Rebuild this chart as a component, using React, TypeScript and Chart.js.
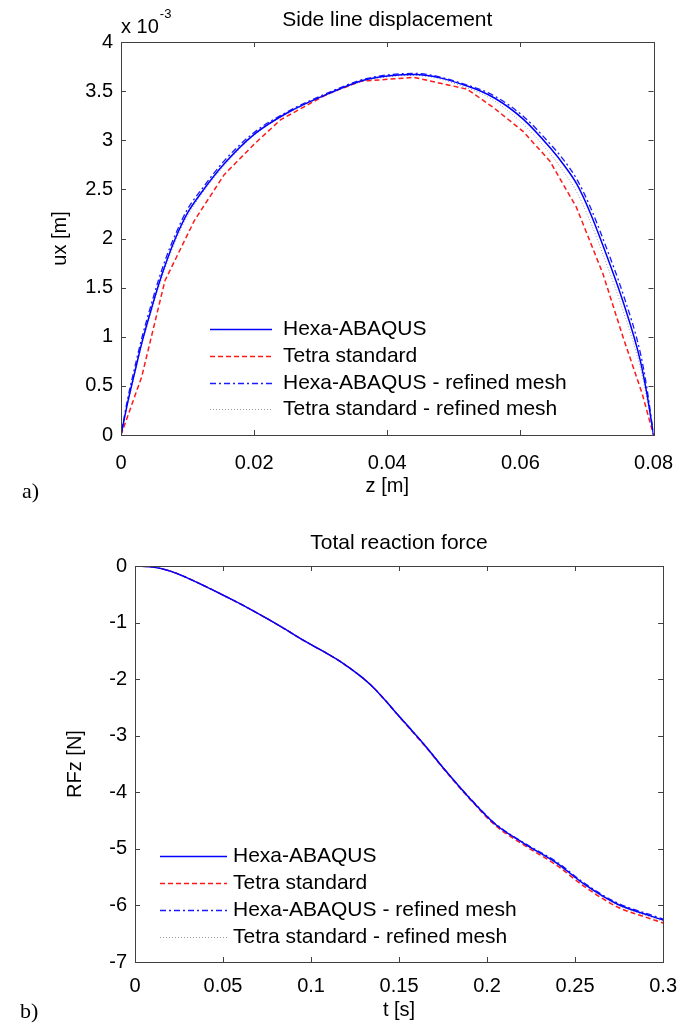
import React, { useEffect, useRef } from 'react';
import { Chart, registerables } from 'chart.js';

Chart.register(...registerables);

// ---------- Chart a: Side line displacement (ux in 1e-3 m) ----------
const zHexa = [0, 0.001, 0.002, 0.0031, 0.0045, 0.0056, 0.0068, 0.0081, 0.01, 0.012, 0.0155, 0.02, 0.025, 0.031, 0.037, 0.0441, 0.0521, 0.0561, 0.0605, 0.0645, 0.0665, 0.0685, 0.0705, 0.0725, 0.0755, 0.078, 0.079, 0.08];
const uxHexa = [0, 0.33, 0.62, 0.93, 1.27, 1.52, 1.76, 1.99, 2.26, 2.46, 2.76, 3.06, 3.28, 3.47, 3.62, 3.67, 3.55, 3.43, 3.21, 2.92, 2.75, 2.55, 2.26, 1.91, 1.34, 0.76, 0.42, 0];
const uxHexaRefined = [0, 0.37, 0.67, 0.98, 1.32, 1.57, 1.81, 2.03, 2.3, 2.49, 2.79, 3.08, 3.29, 3.48, 3.63, 3.68, 3.56, 3.45, 3.24, 2.96, 2.8, 2.6, 2.32, 1.98, 1.42, 0.84, 0.48, 0];
const uxTetraRefined = [0, 0.31, 0.6, 0.91, 1.24, 1.49, 1.73, 1.96, 2.23, 2.44, 2.74, 3.05, 3.27, 3.46, 3.61, 3.66, 3.53, 3.4, 3.16, 2.86, 2.68, 2.47, 2.17, 1.82, 1.25, 0.69, 0.37, 0];
const zTetra = [0, 0.0031, 0.0066, 0.011, 0.0155, 0.02, 0.024, 0.031, 0.036, 0.044, 0.052, 0.056, 0.0604, 0.0644, 0.0684, 0.0724, 0.0754, 0.0783, 0.08];
const uxTetra = [0, 0.59, 1.57, 2.18, 2.65, 2.96, 3.21, 3.47, 3.6, 3.64, 3.52, 3.33, 3.09, 2.79, 2.32, 1.64, 1.0, 0.42, 0];

const zTicks = [0, 0.02, 0.04, 0.06, 0.08];
const zTickLabels = ['0', '0.02', '0.04', '0.06', '0.08'];
const uxTicks = [0, 0.5, 1, 1.5, 2, 2.5, 3, 3.5, 4];
const uxTickLabels = ['0', '0.5', '1', '1.5', '2', '2.5', '3', '3.5', '4'];

// ---------- Chart b: Total reaction force ----------
const tRF = [0, 0.0103, 0.02, 0.029, 0.04, 0.051, 0.0635, 0.0756, 0.086, 0.096, 0.107, 0.1186, 0.1335, 0.1429, 0.1484, 0.1559, 0.166, 0.1765, 0.1914, 0.2045, 0.2213, 0.24, 0.255, 0.2736, 0.2923, 0.3];
const rfHexa = [0, -0.02, -0.09, -0.2, -0.36, -0.53, -0.73, -0.94, -1.13, -1.32, -1.51, -1.73, -2.09, -2.4, -2.6, -2.86, -3.22, -3.62, -4.15, -4.56, -4.91, -5.26, -5.62, -5.97, -6.18, -6.26];
const rfTetra = [0, -0.02, -0.09, -0.2, -0.36, -0.53, -0.73, -0.94, -1.13, -1.32, -1.51, -1.73, -2.09, -2.4, -2.6, -2.87, -3.23, -3.63, -4.16, -4.58, -4.94, -5.3, -5.66, -6.02, -6.23, -6.31];
const rfHexaRefined = [0, -0.02, -0.09, -0.2, -0.36, -0.53, -0.73, -0.94, -1.13, -1.32, -1.51, -1.73, -2.09, -2.4, -2.6, -2.86, -3.22, -3.62, -4.14, -4.55, -4.9, -5.24, -5.6, -5.95, -6.16, -6.24];
const rfTetraRefined = [0, -0.02, -0.09, -0.2, -0.36, -0.53, -0.73, -0.94, -1.13, -1.32, -1.51, -1.73, -2.09, -2.4, -2.6, -2.86, -3.22, -3.62, -4.15, -4.57, -4.92, -5.28, -5.63, -5.99, -6.2, -6.28];

const tTicks = [0, 0.05, 0.1, 0.15, 0.2, 0.25, 0.3];
const tTickLabels = ['0', '0.05', '0.1', '0.15', '0.2', '0.25', '0.3'];
const rfTicks = [-7, -6, -5, -4, -3, -2, -1, 0];
const rfTickLabels = ['-7', '-6', '-5', '-4', '-3', '-2', '-1', '0'];

const seriesLabels = ['Hexa-ABAQUS', 'Tetra standard', 'Hexa-ABAQUS - refined mesh', 'Tetra standard - refined mesh'];

const F = { family: "'Liberation Sans', Arial, Helvetica, sans-serif", tick: 20, label: 20, legend: 21, title: 21, sup: 13 };

const pts = (xs: number[], ys: number[]) => xs.map((x, i) => ({ x, y: ys[i] }));

const styles = [
  { borderColor: '#0000ff', borderWidth: 1.5, borderDash: [] as number[] },
  { borderColor: '#ff1a1a', borderWidth: 1.5, borderDash: [5, 3] },
  { borderColor: '#1a1aff', borderWidth: 1.3, borderDash: [6, 3, 2, 3] },
  { borderColor: '#9a9a9a', borderWidth: 1, borderDash: [1, 2] },
];

function makeDatasets(series: { x: number[]; y: number[]; smooth: boolean }[]) {
  return series.map((s, i) => ({
    label: seriesLabels[i],
    data: pts(s.x, s.y),
    ...styles[i],
    pointRadius: 0,
    fill: false,
    cubicInterpolationMode: s.smooth ? 'monotone' : 'default',
    tension: 0,
  }));
}

function decorPlugin(cfg: any) {
  return {
    id: 'matlabDecor' + cfg.key,
    afterDraw(chart: any) {
      const { ctx, chartArea: ca, scales } = chart;
      const xs = scales.x;
      const ys = scales.y;
      ctx.save();
      ctx.strokeStyle = '#404040';
      ctx.lineWidth = 1;
      ctx.setLineDash([]);
      ctx.strokeRect(Math.round(ca.left) + 0.5, Math.round(ca.top) + 0.5, Math.round(ca.right - ca.left), Math.round(ca.bottom - ca.top));
      const tl = 5;
      ctx.beginPath();
      cfg.xTicks.forEach((v: number) => {
        const p = Math.round(xs.getPixelForValue(v)) + 0.5;
        ctx.moveTo(p, ca.bottom);
        ctx.lineTo(p, ca.bottom - tl);
        ctx.moveTo(p, ca.top);
        ctx.lineTo(p, ca.top + tl);
      });
      cfg.yTicks.forEach((v: number) => {
        const p = Math.round(ys.getPixelForValue(v)) + 0.5;
        ctx.moveTo(ca.left, p);
        ctx.lineTo(ca.left + tl, p);
        ctx.moveTo(ca.right, p);
        ctx.lineTo(ca.right - tl, p);
      });
      ctx.stroke();
      ctx.fillStyle = '#000';
      ctx.font = `${F.title}px ${F.family}`;
      ctx.textAlign = 'center';
      ctx.textBaseline = 'middle';
      ctx.fillText(cfg.title, (ca.left + ca.right) / 2, cfg.titleY);
      if (cfg.exponent) {
        ctx.textAlign = 'left';
        ctx.font = `${F.tick}px ${F.family}`;
        ctx.fillText('x 10', ca.left, cfg.exponent.y);
        const w = ctx.measureText('x 10').width;
        ctx.font = `${F.sup}px ${F.family}`;
        ctx.fillText(cfg.exponent.pow, ca.left + w + 1, cfg.exponent.y - 13);
      }
      ctx.font = `${F.legend}px ${F.family}`;
      ctx.textAlign = 'left';
      chart.data.datasets.forEach((ds: any, i: number) => {
        const y = cfg.legend.rows[i];
        ctx.save();
        ctx.strokeStyle = ds.borderColor;
        ctx.lineWidth = ds.borderWidth;
        ctx.setLineDash(ds.borderDash || []);
        ctx.beginPath();
        ctx.moveTo(cfg.legend.x0, y + 0.5);
        ctx.lineTo(cfg.legend.x1, y + 0.5);
        ctx.stroke();
        ctx.restore();
        ctx.fillStyle = '#000';
        ctx.fillText(ds.label, cfg.legend.tx, y);
      });
      ctx.restore();
    },
  };
}

function makeConfig(opts: any) {
  const tickFont = { family: F.family, size: F.tick };
  const labelFont = { family: F.family, size: F.label };
  return {
    type: 'line',
    data: { datasets: opts.datasets },
    options: {
      animation: false,
      responsive: false,
      maintainAspectRatio: false,
      devicePixelRatio: 1,
      events: [],
      layout: { padding: opts.padding },
      plugins: { legend: { display: false }, tooltip: { enabled: false }, title: { display: false } },
      elements: { point: { radius: 0 }, line: { tension: 0 } },
      scales: {
        x: {
          type: 'linear',
          min: opts.xMin,
          max: opts.xMax,
          afterBuildTicks: (s: any) => {
            s.ticks = opts.xTicks.map((v: number) => ({ value: v }));
          },
          afterFit: (s: any) => {
            s.height = opts.xAxisHeight;
          },
          grid: { display: false, drawTicks: false },
          border: { display: false },
          ticks: {
            font: tickFont,
            color: '#000',
            padding: opts.xTickPad,
            autoSkip: false,
            maxRotation: 0,
            minRotation: 0,
            callback: (_v: any, i: number) => opts.xTickLabels[i],
          },
          title: { display: true, text: opts.xTitle, font: labelFont, color: '#000', padding: { top: 0, bottom: opts.xTitlePad } },
        },
        y: {
          type: 'linear',
          min: opts.yMin,
          max: opts.yMax,
          afterBuildTicks: (s: any) => {
            s.ticks = opts.yTicks.map((v: number) => ({ value: v }));
          },
          afterFit: (s: any) => {
            s.width = opts.yAxisWidth;
          },
          grid: { display: false, drawTicks: false },
          border: { display: false },
          ticks: {
            font: tickFont,
            color: '#000',
            padding: 8,
            autoSkip: false,
            callback: (_v: any, i: number) => opts.yTickLabels[i],
          },
          title: { display: true, text: opts.yTitle, font: labelFont, color: '#000', padding: { top: opts.yTitlePad, bottom: 0 } },
        },
      },
    },
    plugins: [decorPlugin(opts.decor)],
  };
}

export default function App() {
  const refA = useRef<HTMLCanvasElement>(null);
  const refB = useRef<HTMLCanvasElement>(null);

  useEffect(() => {
    const chartA = new Chart(
      refA.current as HTMLCanvasElement,
      makeConfig({
        datasets: makeDatasets([
          { x: zHexa, y: uxHexa, smooth: true },
          { x: zTetra, y: uxTetra, smooth: false },
          { x: zHexa, y: uxHexaRefined, smooth: true },
          { x: zHexa, y: uxTetraRefined, smooth: true },
        ]),
        padding: { top: 42, right: 31, left: 0, bottom: 0 },
        xMin: 0, xMax: 0.08, xTicks: zTicks, xTickLabels: zTickLabels,
        yMin: 0, yMax: 4, yTicks: uxTicks, yTickLabels: uxTickLabels,
        xAxisHeight: 65, yAxisWidth: 121, xTickPad: 16, xTitlePad: 2, yTitlePad: 48,
        xTitle: 'z [m]', yTitle: 'ux [m]',
        decor: {
          key: 'a', xTicks: zTicks, yTicks: uxTicks, title: 'Side line displacement', titleY: 20,
          exponent: { y: 27, pow: '-3' },
          legend: { x0: 210, x1: 272, tx: 283, rows: [329, 356, 383, 409] },
        },
      }) as any
    );
    const chartB = new Chart(
      refB.current as HTMLCanvasElement,
      makeConfig({
        datasets: makeDatasets([
          { x: tRF, y: rfHexa, smooth: true },
          { x: tRF, y: rfTetra, smooth: true },
          { x: tRF, y: rfHexaRefined, smooth: true },
          { x: tRF, y: rfTetraRefined, smooth: true },
        ]),
        padding: { top: 46, right: 18, left: 0, bottom: 0 },
        xMin: 0, xMax: 0.3, xTicks: tTicks, xTickLabels: tTickLabels,
        yMin: -7, yMax: 0, yTicks: rfTicks, yTickLabels: rfTickLabels,
        xAxisHeight: 65, yAxisWidth: 135, xTickPad: 12, xTitlePad: 5, yTitlePad: 63,
        xTitle: 't [s]', yTitle: 'RFz [N]',
        decor: {
          key: 'b', xTicks: tTicks, yTicks: rfTicks, title: 'Total reaction force', titleY: 23,
          exponent: null,
          legend: { x0: 160, x1: 227, tx: 233, rows: [336, 363, 390, 417] },
        },
      }) as any
    );
    return () => {
      chartA.destroy();
      chartB.destroy();
    };
  }, []);

  return (
    <div style={{ position: 'absolute', left: 0, top: 0, width: 689, height: 1027, background: '#fff' }}>
      <canvas ref={refA} width={689} height={500} style={{ position: 'absolute', left: 0, top: 0, width: 689, height: 500 }} />
      <canvas ref={refB} width={689} height={507} style={{ position: 'absolute', left: 0, top: 520, width: 689, height: 507 }} />
      <span style={{ position: 'absolute', left: 22, top: 478, font: "22px 'Liberation Serif', 'Times New Roman', serif", color: '#000' }}>a)</span>
      <span style={{ position: 'absolute', left: 20, top: 998, font: "22px 'Liberation Serif', 'Times New Roman', serif", color: '#000' }}>b)</span>
    </div>
  );
}
